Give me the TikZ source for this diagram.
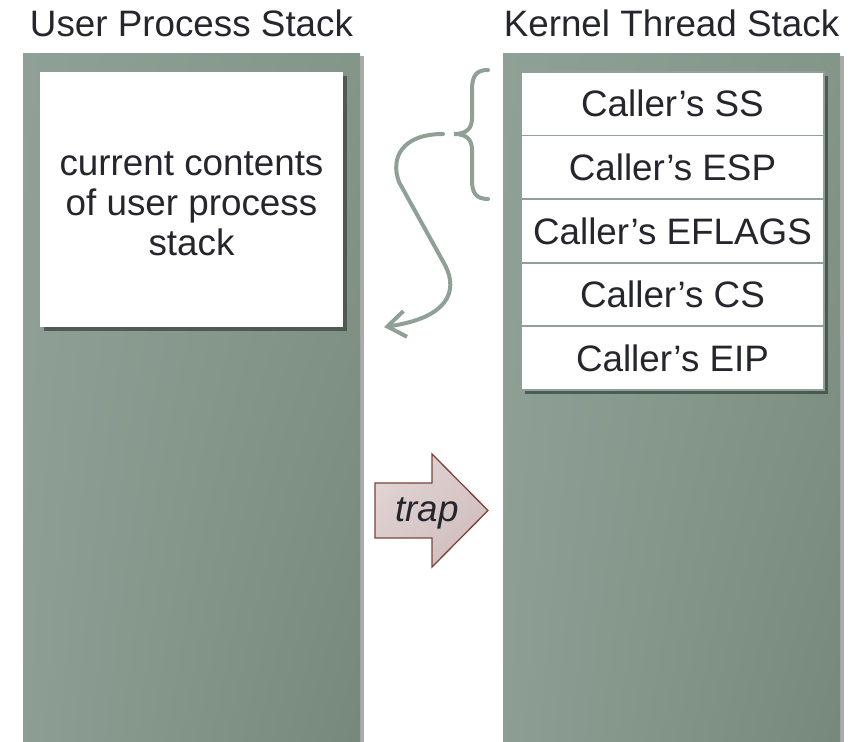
\documentclass[tikz,border=0pt]{standalone}
\usepackage{fontspec}
\setmainfont{Liberation Sans}
\usepackage{tikz}
\usetikzlibrary{arrows.meta}
\usetikzlibrary{positioning}
\usetikzlibrary{shadows,shadings}
\definecolor{stackgreen}{HTML}{8FA196}
\definecolor{stackmid}{HTML}{84968A}
\definecolor{stackdark}{HTML}{76887B}
\definecolor{inktext}{HTML}{25252E}
\definecolor{trapline}{HTML}{7D4336}
\definecolor{traplight}{HTML}{E4D8D8}
\definecolor{trapdark}{HTML}{CDB9B9}
\tikzstyle{panel} = [anchor=north west, inner sep=0pt, outer sep=0pt,
    upper left=stackgreen, upper right=stackmid, lower left=stackgreen!80!stackmid,
    lower right=stackdark,
    drop shadow={shadow xshift=2pt, shadow yshift=-1pt, opacity=0.55, fill=black!60}]
\tikzstyle{whitebox} = [fill=white, inner sep=0pt, outer sep=0pt, text=inktext,
    align=center,
    drop shadow={shadow xshift=1.8pt, shadow yshift=-1.8pt, opacity=0.8, fill=stackdark!55!black}]
\tikzstyle{cell} = [whitebox, draw=stackgreen, line width=0.9pt,
    minimum width=151.5pt, minimum height=31.8pt]
\tikzstyle{title} = [anchor=base, text=inktext]
\tikzset{>={Straight Barb[length=9pt,width=13pt]}}

\begin{document}
\begin{tikzpicture}[font=\fontsize{18.4pt}{20pt}\selectfont]
\begin{scope}[x=0.5pt,y=-0.5pt]
    \clip (0,0) rectangle (863,742);
    %stacks
    \node[panel, minimum width=168.5pt, minimum height=360pt] (user) at (23,54) {};
    \node[panel, minimum width=168.5pt, minimum height=360pt] (kernel) at (503,54) {};
    \node[title] (usertitle) at (191.5,37) {User Process Stack};
    \node[title] (kerneltitle) at (671.5,37) {Kernel Thread Stack};
    %user stack
    \node[whitebox, minimum width=151.5pt, minimum height=127.5pt] (contents) at (191.5,199.5) {};
    \node[text=inktext, align=center] (contentstext) at ([yshift=-2pt]contents.center)
        {current contents\\of user process\\stack};
    %kernel stack
    \node[cell, anchor=north west] (ss) at (521,72) {Caller’s SS};
    \node[cell, below=0pt of ss] (esp) {Caller’s ESP};
    \node[cell, below=0pt of esp] (eflags) {Caller’s EFLAGS};
    \node[cell, below=0pt of eflags] (cs) {Caller’s CS};
    \node[cell, below=0pt of cs] (eip) {Caller’s EIP};
    %brace
    \draw[stackgreen, line width=2pt, line cap=round] (488,70)
        .. controls (476,70) and (472,76) .. (472,90) -- (472,118)
        .. controls (472,129) and (466,134) .. (454,134)
        .. controls (466,134) and (472,139) .. (472,150) -- (472,180)
        .. controls (472,193) and (476,199) .. (488,199);
    %arrow
    \coordinate (bracetip) at (443,134);
    \coordinate (stacktop) at (384,327);
    \draw[->, stackgreen, line width=2pt, line cap=round] (bracetip)
        .. controls (402,134) and (390,158) .. (399,182) -- (445,265)
        .. controls (459,292) and (447,318) .. (stacktop);
    %trap
    \draw[trapline, line width=0.65pt, upper left=traplight, upper right=traplight!50!trapdark,
        lower left=traplight!50!trapdark, lower right=trapdark]
        (375,483) -- (432,483) -- (432,454) -- (488,510.5) -- (432,567)
        -- (432,538) -- (375,538) -- cycle;
    \node[text=inktext, font=\fontsize{18.4pt}{20pt}\selectfont\itshape] (trap) at (427,513) {trap};
\end{scope}
\end{tikzpicture}
\end{document}
